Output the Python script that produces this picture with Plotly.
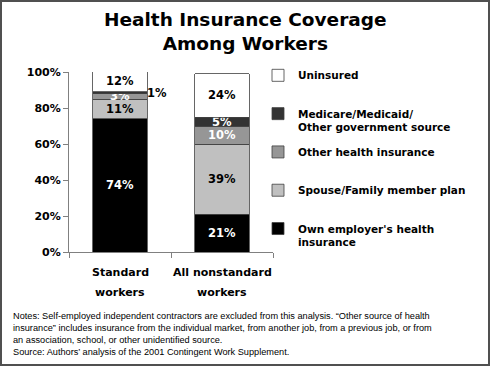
import plotly.graph_objects as go

# ---- data ----
categories = ["Standard workers", "All nonstandard workers"]
category_labels = [["Standard", "workers"], ["All nonstandard", "workers"]]
series_names = [
    "Own employer's health<br>insurance",
    "Spouse/Family member plan",
    "Other health insurance",
    "Medicare/Medicaid/<br>Other government source",
    "Uninsured",
]
own_employer = [74, 21]
spouse_family = [11, 39]
other_health = [3, 10]
medicare = [1, 5]
uninsured = [12, 24]
series_values = [own_employer, spouse_family, other_health, medicare, uninsured]
series_colors = ["#000000", "#c0c0c0", "#969696", "#333333", "#ffffff"]
label_colors = ["#ffffff", "#000000", "#ffffff", "#ffffff", "#000000"]
y_ticks = [0, 20, 40, 60, 80, 100]
y_tick_labels = [f"{v}%" for v in y_ticks]

title_text = "Health Insurance Coverage<br>Among Workers"
notes_text = ("Notes: Self-employed independent contractors are excluded from this analysis. \u201cOther source of health<br>"
              "insurance\u201d includes insurance from the individual market, from another job, from a previous job, or from<br>"
              "an association, school, or other unidentified source.")
source_text = "Source: Authors\u2019 analysis of the 2001 Contingent Work Supplement."

# ---- layout geometry ----
W_FIG, H_FIG = 490, 366
L, R, T, B = 69, 217, 72, 114
PW = W_FIG - L - R
PH = H_FIG - T - B


def px_x(p):
    return (p - L) / PW


def px_y(p):
    return (H_FIG - B - p) / PH


HEAVY = "DejaVu Sans, Verdana, sans-serif"
FONT = "Liberation Sans, Arial, sans-serif"

fig = go.Figure()
n = len(series_names)
for i, (name, vals, col, tcol) in enumerate(zip(series_names, series_values, series_colors, label_colors)):
    texts = [f"{v}%" if v >= 2 else "" for v in vals]
    fig.add_trace(go.Bar(
        x=categories, y=vals, name=name if "<br>" in name else name + "<br> ",
        marker=dict(color=col, line=dict(color="#404040", width=0.8)),
        text=texts, textposition="inside", insidetextanchor="middle",
        constraintext="none",
        textfont=dict(family=HEAVY, size=11.5, color=tcol, weight="bold"),
        width=0.53, hoverinfo="skip",
        legendgroup=f"g{i}", legendrank=n - i,
    ))

annotations = []
# title
annotations.append(dict(
    x=px_x(245), y=px_y(32), xref="paper", yref="paper", text=title_text,
    showarrow=False, xanchor="center", yanchor="middle",
    font=dict(family=HEAVY, size=18.5, color="#000000", weight="bold")))

# small segment labels shown beside the bar
for ci, cat in enumerate(categories):
    base = 0
    for vals in series_values:
        v = vals[ci]
        if v < 2:
            annotations.append(dict(
                x=cat, y=base + v / 2, xref="x", yref="y", text=f"{v}%",
                showarrow=False, xshift=37,
                font=dict(family=HEAVY, size=11.5, color="#000000", weight="bold")))
        base += v

# category labels (two lines)
for cat, lines in zip(categories, category_labels):
    for li, line in enumerate(lines):
        annotations.append(dict(
            x=cat, y=px_y(272 + 20 * li), xref="x", yref="paper", text=line,
            showarrow=False, xanchor="center", yanchor="middle",
            font=dict(family=HEAVY, size=11, color="#000000", weight="bold")))

annotations.append(dict(
    x=px_x(11), y=px_y(309), xref="paper", yref="paper", text=notes_text,
    showarrow=False, xanchor="left", yanchor="top", align="left",
    font=dict(family=FONT, size=9.2, color="#000000")))
annotations.append(dict(
    x=px_x(11), y=px_y(345), xref="paper", yref="paper", text=source_text,
    showarrow=False, xanchor="left", yanchor="top", align="left",
    font=dict(family=FONT, size=9.2, color="#000000")))

fig.update_layout(
    width=W_FIG, height=H_FIG,
    margin=dict(l=L, r=R, t=T, b=B, autoexpand=False),
    paper_bgcolor="white", plot_bgcolor="white",
    barmode="stack",
    showlegend=True,
    legend=dict(
        x=px_x(258), y=1 - 62 / H_FIG, xanchor="left", yanchor="top",
        yref="container",
        traceorder="grouped", tracegroupgap=8, valign="top",
        font=dict(family=HEAVY, size=10.5, color="#000000", weight="bold"),
        bgcolor="rgba(0,0,0,0)", maxheight=1,
    ),
    xaxis=dict(
        showline=True, linecolor="#808080", linewidth=1,
        ticks="outside", tickson="boundaries", ticklen=5, tickcolor="#808080",
        showticklabels=False, showgrid=False, range=[-0.5, 1.5],
        automargin=False,
    ),
    yaxis=dict(
        range=[0, 100], tickvals=y_ticks, ticktext=y_tick_labels,
        showline=True, linecolor="#808080", linewidth=1,
        ticks="outside", ticklen=5, tickcolor="#808080",
        showgrid=False, zeroline=False, automargin=False,
        tickfont=dict(family=HEAVY, size=11, color="#000000", weight="bold"),
    ),
    annotations=annotations,
    shapes=[dict(type="rect", xref="paper", yref="paper",
                 x0=px_x(1), x1=px_x(489), y0=px_y(365), y1=px_y(1),
                 line=dict(color="#505050", width=2))],
)

fig.write_html("out.html", config={"displayModeBar": False},
               post_script="document.body.style.margin='0';document.body.style.overflow='hidden';")
